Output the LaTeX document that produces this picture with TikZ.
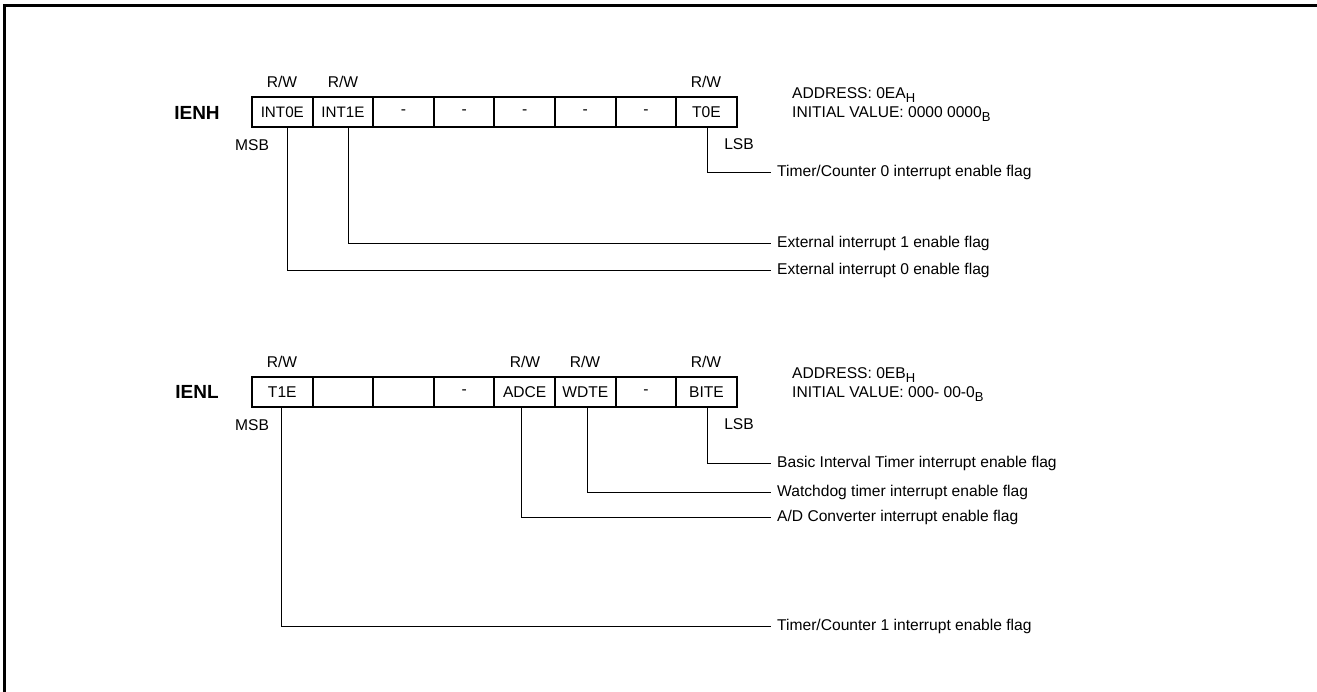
\documentclass[tikz,border=0pt]{standalone}
\usepackage{fontspec}
\setmainfont{Liberation Sans}
\newcommand{\sz}[1]{\fontsize{#1}{#1}\selectfont}
\newcommand{\sbs}[1]{\raisebox{-3.5pt}{\sz{13}#1}}
\begin{document}
\begin{tikzpicture}[x=1pt,y=-1pt,
  cell/.style={draw,line width=2pt,minimum width=60.6pt,minimum height=30pt,inner sep=0pt,font=\sz{15.6}},
  small/.style={font=\sz{15.2}},
  lbl/.style={font=\sz{15.6},inner sep=0pt},
  reg/.style={font=\bfseries\sz{19},inner sep=0pt},
  desc/.style={font=\sz{15.6},inner sep=0pt,anchor=west},
  conn/.style={line width=0.8pt}]
\useasboundingbox (0,0) rectangle (1317,692);
\draw[line width=3pt] (4,692) coordinate (fbl) -- (4,6) coordinate (ftl) -- (1317,6) coordinate (ftr);

% IENH
\node[reg] (ienh) at (197,113) {IENH};
\foreach \i/\t/\s in {1/INT0E/small,2/INT1E/small,3/-/cell,4/-/cell,5/-/cell,6/-/cell,7/-/cell,8/T0E/cell}{
  \node[cell,\s] (h\i) at ({252+60.6*(\i-0.5)},112) {\t};
}
\node[lbl] (hrw1) at (282,82) {R/W};
\node[lbl] (hrw2) at (343,82) {R/W};
\node[lbl] (hrw8) at (706,82) {R/W};
\node[lbl] (hmsb) at (252,145) {MSB};
\node[lbl] (hlsb) at (739,144) {LSB};
\node[lbl,anchor=west] (haddr) at (792,95) {ADDRESS: 0EA\sbs{H}};
\node[lbl,anchor=west] (hinit) at (792,114) {INITIAL VALUE: 0000 0000\sbs{B}};
\node[desc] (dh8) at (777,172) {Timer/Counter 0 interrupt enable flag};
\node[desc] (dh2) at (777,243) {External interrupt 1 enable flag};
\node[desc] (dh1) at (777,270) {External interrupt 0 enable flag};
\draw[conn] ([xshift=5pt]h1.south) |- ([xshift=-6pt]dh1.west);
\draw[conn] ([xshift=5pt]h2.south) |- ([xshift=-6pt]dh2.west);
\draw[conn] ([xshift=1pt]h8.south) |- ([xshift=-6pt]dh8.west);

% IENL
\node[reg] (ienl) at (197,392) {IENL};
\foreach \i/\t in {1/T1E,2/,3/,4/-,5/ADCE,6/WDTE,7/-,8/BITE}{
  \node[cell] (l\i) at ({252+60.6*(\i-0.5)},392) {\t};
}
\node[lbl] (lrw1) at (282,362) {R/W};
\node[lbl] (lrw5) at (525,362) {R/W};
\node[lbl] (lrw6) at (585,362) {R/W};
\node[lbl] (lrw8) at (706,362) {R/W};
\node[lbl] (lmsb) at (252,425) {MSB};
\node[lbl] (llsb) at (739,424) {LSB};
\node[lbl,anchor=west] (laddr) at (792,375) {ADDRESS: 0EB\sbs{H}};
\node[lbl,anchor=west] (linit) at (792,394) {INITIAL VALUE: 000- 00-0\sbs{B}};
\node[desc] (dl8) at (777,463) {Basic Interval Timer interrupt enable flag};
\node[desc] (dl6) at (777,492) {Watchdog timer interrupt enable flag};
\node[desc] (dl5) at (777,517) {A/D Converter interrupt enable flag};
\node[desc] (dl1) at (777,626) {Timer/Counter 1 interrupt enable flag};
\draw[conn] ([xshift=-1pt]l1.south) |- ([xshift=-6pt]dl1.west);
\draw[conn] ([xshift=-3pt]l5.south) |- ([xshift=-6pt]dl5.west);
\draw[conn] ([xshift=2pt]l6.south) |- ([xshift=-6pt]dl6.west);
\draw[conn] ([xshift=1pt]l8.south) |- ([xshift=-6pt]dl8.west);
\end{tikzpicture}
\end{document}
